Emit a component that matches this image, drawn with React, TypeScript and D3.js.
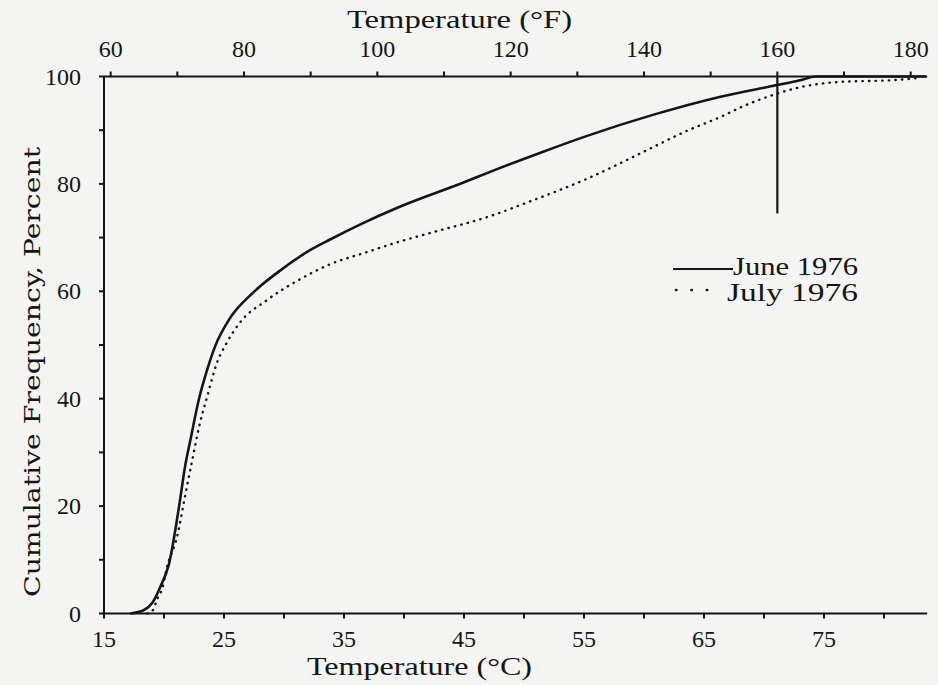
import React from "react";
import * as d3 from "d3";

// June 1976 cumulative frequency (solid)
const juneTemp = [17.2, 18.3, 19.0, 19.7, 20.4, 21.3, 21.75, 22.2, 22.9, 23.6, 24.25, 25.5, 27.4, 29.7, 32.2, 33.8, 36.5, 39.4, 44.9, 47.7, 51.6, 55.2, 60.8, 66.3, 71.1, 73.0, 74.3, 83.5];
const junePct = [0, 0.6, 1.9, 5.0, 9.1, 20.6, 27.3, 32.3, 39.8, 45.4, 49.7, 55.0, 59.7, 63.9, 67.7, 69.6, 72.6, 75.5, 80.2, 82.7, 86.0, 88.9, 92.9, 96.2, 98.4, 99.3, 100, 100];

// July 1976 cumulative frequency (dotted)
const julyTemp = [18.6, 19.1, 19.4, 19.9, 20.2, 21.1, 21.75, 22.3, 23.0, 23.6, 24.4, 25.2, 26.3, 28.6, 31.3, 33.8, 36.9, 39.4, 42.4, 46.9, 50.8, 55.2, 57.7, 60.8, 63.5, 66.5, 68.0, 70.8, 73.0, 75.8, 81.3, 82.8];
const julyPct = [0, 0.7, 2.5, 5.0, 8.2, 14.4, 21.8, 28.0, 35.5, 40.4, 46.6, 50.3, 54.1, 58.4, 62.2, 65.0, 67.3, 69.1, 71.0, 73.8, 77.0, 80.9, 83.5, 86.9, 89.8, 92.6, 94.2, 96.6, 98.0, 98.9, 99.4, 99.7];

const celsiusTicks = [15, 20, 25, 30, 35, 40, 45, 50, 55, 60, 65, 70, 75, 80];
const celsiusLabels = [15, 25, 35, 45, 55, 65, 75];
const fahrenheitTicks = [60, 70, 80, 90, 100, 110, 120, 130, 140, 150, 160, 170, 180];
const fahrenheitLabels = [60, 80, 100, 120, 140, 160, 180];
const pctTicks = [0, 10, 20, 30, 40, 50, 60, 70, 80, 90, 100];
const pctLabels = [0, 20, 40, 60, 80, 100];

const markerF = 160; // vertical marker line at 160 °F
const markerPct = 74.5; // marker bottom end
const axisEndC = 83.6;

const seriesNames = ["June 1976", "July 1976"];

const FONT = "'Liberation Serif', 'DejaVu Serif', serif";
const INK = "#151515";

export default function App() {
  const W = 938;
  const H = 685;
  const x = d3.scaleLinear().domain([15, 80]).range([104, 884]);
  const y = d3.scaleLinear().domain([0, 100]).range([613.5, 76.5]);
  const f2c = (f: number) => ((f - 32) * 5) / 9;

  const line = d3
    .line<[number, number]>()
    .x((d) => x(d[0]))
    .y((d) => y(d[1]))
    .curve(d3.curveMonotoneX);

  const juneData: [number, number][] = juneTemp.map((t, i) => [t, junePct[i]]);
  const julyData: [number, number][] = julyTemp.map((t, i) => [t, julyPct[i]]);

  const x0 = x(15);
  const xEnd = x(axisEndC);
  const yBot = y(0);
  const yTop = y(100);

  return (
    <svg
      width={W}
      height={H}
      style={{ position: "absolute", left: 0, top: 0, background: "#f4f4f2" }}
      fontFamily={FONT}
    >
      <rect x={0} y={0} width={W} height={H} fill="#f4f4f2" />

      {/* axes lines */}
      <g stroke={INK} strokeWidth={2} fill="none">
        <line x1={x0} x2={xEnd} y1={yBot} y2={yBot} />
        <line x1={x0} x2={xEnd} y1={yTop} y2={yTop} />
        <line x1={x0} x2={x0} y1={yTop} y2={yBot} />
      </g>

      {/* ticks */}
      <g stroke={INK} strokeWidth={2}>
        {celsiusTicks.map((t) => (
          <line key={"bt" + t} x1={x(t)} x2={x(t)} y1={yBot - (t === 15 ? 4 : 0)} y2={yBot + 5} />
        ))}
        {fahrenheitTicks.map((f) => (
          <line key={"tt" + f} x1={x(f2c(f))} x2={x(f2c(f))} y1={yTop} y2={yTop - 5} />
        ))}
        {pctTicks.map((p) => (
          <line key={"lt" + p} x1={x0} x2={x0 - 5} y1={y(p)} y2={y(p)} />
        ))}
      </g>

      {/* tick labels */}
      <g fill={INK} fontSize={24}>
        {celsiusLabels.map((t) => (
          <text key={"bl" + t} x={x(t)} y={647} textAnchor="middle">
            {t}
          </text>
        ))}
        {fahrenheitLabels.map((f) => (
          <text key={"tl" + f} x={x(f2c(f))} y={57} textAnchor="middle">
            {f}
          </text>
        ))}
        {pctLabels.map((p) => (
          <text key={"ll" + p} x={81} y={y(p) + 8} textAnchor="end">
            {p}
          </text>
        ))}
      </g>

      {/* axis titles */}
      <g fill={INK} fontSize={25}>
        <text x={307} y={675} textLength={225} lengthAdjust="spacingAndGlyphs">
          Temperature (°C)
        </text>
        <text x={347} y={28} textLength={225} lengthAdjust="spacingAndGlyphs">
          Temperature (°F)
        </text>
        <text
          transform="translate(40,597) rotate(-90)"
          x={0}
          y={0}
          fontSize={22}
          fontFamily="'DejaVu Serif', serif"
          textLength={450}
          lengthAdjust="spacingAndGlyphs"
        >
          Cumulative Frequency, Percent
        </text>
      </g>

      {/* marker line at 160 F */}
      <line
        x1={x(f2c(markerF))}
        x2={x(f2c(markerF))}
        y1={yTop}
        y2={y(markerPct)}
        stroke={INK}
        strokeWidth={2.2}
      />

      {/* curves */}
      <path d={line(juneData) || ""} fill="none" stroke={INK} strokeWidth={2.6} strokeLinejoin="round" />
      <path
        d={line(julyData) || ""}
        fill="none"
        stroke={INK}
        strokeWidth={2.4}
        strokeLinecap="round"
        strokeDasharray="0.4 6.2"
      />

      {/* legend */}
      <line x1={673} x2={733} y1={269} y2={269} stroke={INK} strokeWidth={2.2} />
      <text x={733} y={275} fontSize={25} fill={INK} textLength={125} lengthAdjust="spacingAndGlyphs">
        {seriesNames[0]}
      </text>
      <line
        x1={676}
        x2={722}
        y1={290}
        y2={290}
        stroke={INK}
        strokeWidth={2.6}
        strokeLinecap="round"
        strokeDasharray="0.4 15"
      />
      <text x={727} y={301} fontSize={25} fill={INK} textLength={131} lengthAdjust="spacingAndGlyphs">
        {seriesNames[1]}
      </text>
    </svg>
  );
}
